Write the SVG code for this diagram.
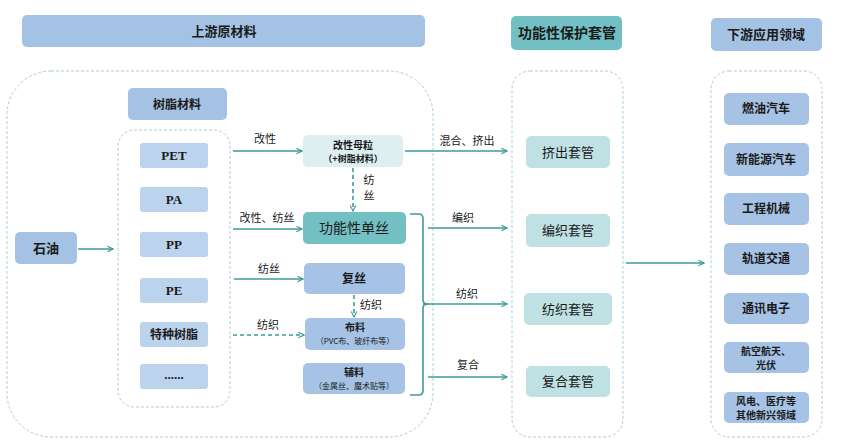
<svg xmlns="http://www.w3.org/2000/svg" width="842" height="448" viewBox="0 0 842 448">
<defs>
<marker id="ah" viewBox="0 0 10 10" refX="9" refY="5" markerWidth="7" markerHeight="7" markerUnits="userSpaceOnUse" orient="auto">
<path d="M1,1 L9,5 L1,9" fill="none" stroke="#3f9a9c" stroke-width="1.6"/>
</marker>
<style>
.hdr{fill:#a4c2e4}
.blue{fill:#a6c3e6}
.lblue{fill:#bcd3ee}
.teal{fill:#bfe1e4}
.dteal{fill:#72c0c4}
.pale{fill:#ddeff1}
.frame{fill:none;stroke:#a9d0d2;stroke-width:1;stroke-dasharray:3,2}
.cn{font-family:"Noto Sans CJK SC","Noto Sans",sans-serif;fill:#1a1a1a;text-anchor:middle}
.ser{font-family:"Liberation Serif",serif;font-weight:bold;fill:#1a1a1a;text-anchor:middle;font-size:13px}
.lbl{font-family:"Noto Sans CJK SC","Noto Sans",sans-serif;fill:#1a1a1a;text-anchor:middle;font-size:11px}
.c{fill:none;stroke:#3f9a9c;stroke-width:1.6}
.dash{stroke-dasharray:4,3}
</style>
</defs>
<rect width="842" height="448" fill="#ffffff"/>

<!-- frames -->
<rect class="frame" x="7" y="71" width="426" height="366" rx="44"/>
<rect class="frame" x="118" y="130" width="112" height="277" rx="16"/>
<rect class="frame" x="512" y="71" width="111" height="366" rx="18"/>
<rect class="frame" x="711" y="71" width="111" height="366" rx="18"/>

<!-- headers -->
<g id="h-upstream"><rect class="hdr" x="22" y="15" width="403" height="32" rx="5"/><text class="cn" x="224" y="36" font-size="13" font-weight="bold">上游原材料</text></g>
<g id="h-sleeve"><rect class="dteal" x="511" y="16" width="111" height="34" rx="5"/><text class="cn" x="567" y="38" font-size="14" font-weight="bold">功能性保护套管</text></g>
<g id="h-down"><rect class="hdr" x="711" y="18" width="111" height="33" rx="5"/><text class="cn" x="766" y="39" font-size="13" font-weight="bold">下游应用领域</text></g>

<g id="resin-title"><rect class="hdr" x="128" y="88" width="99" height="32" rx="5"/><text class="cn" x="177" y="109" font-size="12" font-weight="bold">树脂材料</text></g>

<g id="oil"><rect class="hdr" x="15" y="232" width="62" height="32" rx="5"/><text class="cn" x="46" y="253" font-size="13" font-weight="bold">石油</text></g>

<!-- resins -->
<g id="pet"><rect class="lblue" x="140" y="143" width="68" height="25" rx="3"/><text class="ser" x="174" y="160">PET</text></g>
<g id="pa"><rect class="lblue" x="140" y="187" width="68" height="25" rx="3"/><text class="ser" x="174" y="204">PA</text></g>
<g id="pp"><rect class="lblue" x="140" y="232" width="68" height="25" rx="3"/><text class="ser" x="174" y="249">PP</text></g>
<g id="pe"><rect class="lblue" x="140" y="278" width="68" height="25" rx="3"/><text class="ser" x="174" y="295">PE</text></g>
<g id="special"><rect class="lblue" x="140" y="322" width="68" height="25" rx="3"/><text class="cn" x="174" y="339" font-size="12" font-weight="bold">特种树脂</text></g>
<g id="etc"><rect class="lblue" x="140" y="364" width="68" height="25" rx="3"/><text class="ser" x="174" y="379">......</text></g>

<!-- middle column -->
<g id="masterbatch"><rect class="pale" x="303" y="135" width="100" height="32" rx="5"/><text class="cn" x="353" y="149" font-size="10" font-weight="bold">改性母粒</text><text class="cn" x="353" y="162" font-size="9" font-weight="bold">（+树脂材料）</text></g>
<g id="mono"><rect class="dteal" x="303" y="212" width="103" height="32" rx="5"/><text class="cn" x="354" y="233" font-size="14">功能性单丝</text></g>
<g id="multi"><rect class="blue" x="304" y="263" width="101" height="31" rx="5"/><text class="cn" x="354" y="283" font-size="12" font-weight="bold">复丝</text></g>
<g id="cloth"><rect class="blue" x="305" y="318" width="100" height="32" rx="5"/><text class="cn" x="355" y="331" font-size="10" font-weight="bold">布料</text><text class="cn" x="355" y="344" font-size="8">（PVC布、玻纤布等）</text></g>
<g id="aux"><rect class="blue" x="303" y="363" width="102" height="31" rx="5"/><text class="cn" x="354" y="376" font-size="10" font-weight="bold">辅料</text><text class="cn" x="354" y="389" font-size="8">（金属丝、魔术贴等）</text></g>

<!-- sleeves -->
<g id="s-extrude"><rect class="teal" x="526" y="136" width="84" height="32" rx="5"/><text class="cn" x="568" y="157" font-size="13">挤出套管</text></g>
<g id="s-braid"><rect class="teal" x="526" y="214" width="84" height="33" rx="5"/><text class="cn" x="568" y="235" font-size="13">编织套管</text></g>
<g id="s-woven"><rect class="teal" x="524" y="293" width="88" height="32" rx="5"/><text class="cn" x="568" y="314" font-size="13">纺织套管</text></g>
<g id="s-comp"><rect class="teal" x="526" y="366" width="84" height="31" rx="5"/><text class="cn" x="568" y="386" font-size="13">复合套管</text></g>

<!-- downstream -->
<g id="d1"><rect class="blue" x="724" y="93" width="85" height="32" rx="5"/><text class="cn" x="766" y="113" font-size="12" font-weight="bold">燃油汽车</text></g>
<g id="d2"><rect class="blue" x="724" y="143" width="85" height="33" rx="5"/><text class="cn" x="766" y="164" font-size="12" font-weight="bold">新能源汽车</text></g>
<g id="d3"><rect class="blue" x="724" y="193" width="85" height="32" rx="5"/><text class="cn" x="766" y="213" font-size="12" font-weight="bold">工程机械</text></g>
<g id="d4"><rect class="blue" x="724" y="243" width="85" height="32" rx="5"/><text class="cn" x="766" y="263" font-size="12" font-weight="bold">轨道交通</text></g>
<g id="d5"><rect class="blue" x="724" y="293" width="85" height="31" rx="5"/><text class="cn" x="766" y="313" font-size="12" font-weight="bold">通讯电子</text></g>
<g id="d6"><rect class="blue" x="724" y="342" width="85" height="31" rx="5"/><text class="cn" x="766" y="355" font-size="10" font-weight="bold">航空航天、</text><text class="cn" x="766" y="369" font-size="10" font-weight="bold">光伏</text></g>
<g id="d7"><rect class="blue" x="724" y="392" width="85" height="31" rx="5"/><text class="cn" x="766" y="405" font-size="10" font-weight="bold">风电、医疗等</text><text class="cn" x="766" y="419" font-size="10" font-weight="bold">其他新兴领域</text></g>

<!-- connectors -->
<g id="connectors">
<line class="c" x1="78" y1="249" x2="113" y2="249" marker-end="url(#ah)"/>
<line class="c" x1="233" y1="151" x2="302" y2="151" marker-end="url(#ah)"/>
<line class="c dash" x1="353" y1="168" x2="353" y2="211" marker-end="url(#ah)"/>
<line class="c" x1="233" y1="229" x2="302" y2="229" marker-end="url(#ah)"/>
<line class="c" x1="234" y1="279" x2="303" y2="279" marker-end="url(#ah)"/>
<line class="c dash" x1="354" y1="295" x2="354" y2="317" marker-end="url(#ah)"/>
<line class="c dash" x1="233" y1="335" x2="304" y2="335" marker-end="url(#ah)"/>
<line class="c" x1="405" y1="151" x2="507" y2="151" marker-end="url(#ah)"/>
<line class="c" x1="428" y1="228" x2="507" y2="228" marker-end="url(#ah)"/>
<path class="c" d="M410,214 L419,214 Q423,214 423,219 L423,300 Q423,304 428,304 Q423,304 423,308 L423,390 Q423,395 419,395 L410,395"/>
<line class="c" x1="423" y1="304" x2="507" y2="304" marker-end="url(#ah)"/>
<line class="c" x1="428" y1="377" x2="507" y2="377" marker-end="url(#ah)"/>
<line class="c" x1="626" y1="263" x2="704" y2="263" marker-end="url(#ah)"/>
</g>

<!-- connector labels -->
<text class="lbl" x="265" y="143">改性</text>
<text class="lbl" x="267" y="222">改性、纺丝</text>
<text class="lbl" x="269" y="273">纺丝</text>
<text class="lbl" x="268" y="329">纺织</text>
<text class="lbl" x="369" y="184" font-size="10">纺</text>
<text class="lbl" x="369" y="200" font-size="10">丝</text>
<text class="lbl" x="371" y="309">纺织</text>
<text class="lbl" x="467" y="145">混合、挤出</text>
<text class="lbl" x="463" y="222">编织</text>
<text class="lbl" x="467" y="298">纺织</text>
<text class="lbl" x="468" y="369">复合</text>
</svg>
